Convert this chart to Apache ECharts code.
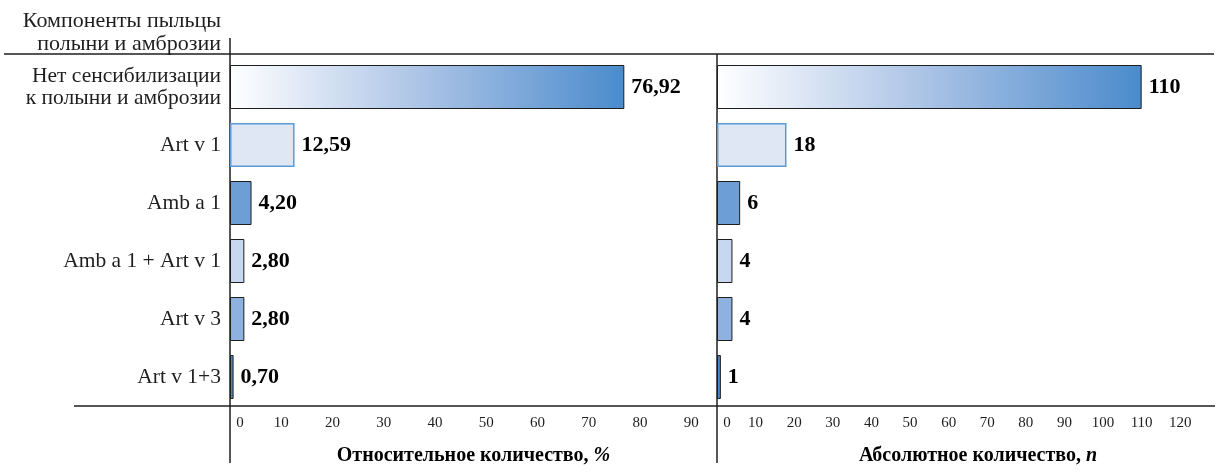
<!DOCTYPE html>
<html>
<head>
<meta charset="utf-8">
<script src="https://cdn.jsdelivr.net/npm/echarts@6/dist/echarts.min.js"></script>
<style>
  html, body { margin: 0; padding: 0; background: #fff; }
  #chart { width: 1218px; height: 472px; }
</style>
</head>
<body>
<div id="chart"></div>
<script>
// Pollen component sensitisation: relative share (%) and absolute count (n)
const categories = [
  'Нет сенсибилизации\nк полыни и амброзии',
  'Art v 1',
  'Amb a 1',
  'Amb a 1 + Art v 1',
  'Art v 3',
  'Art v 1+3'
];
const percentValues = [76.92, 12.59, 4.20, 2.80, 2.80, 0.70];
const countValues = [110, 18, 6, 4, 4, 1];
const percentTicks = [0, 10, 20, 30, 40, 50, 60, 70, 80, 90];
const countTicks = [0, 10, 20, 30, 40, 50, 60, 70, 80, 90, 100, 110, 120];

const SERIF = '"Liberation Serif", "DejaVu Serif", serif';
const INK = '#1e1e1e';

// Table layout: header rule, plot band, footer rule, column rules
const HEADER_Y = 54, TOP = 58, BOTTOM = 406;
const LEFT_X = 230, MID_X = 717, RIGHT_X = 1215;

// Per-row bar fills
const rowStyles = [
  {
    color: new echarts.graphic.LinearGradient(0, 0, 1, 0, [
      { offset: 0, color: '#ffffff' },
      { offset: 0.5, color: '#a9c2e5' },
      { offset: 1, color: '#4a8bcc' }
    ]),
    borderColor: INK, borderWidth: 1
  },
  { color: '#dfe6f4', borderColor: '#5b9bd5', borderWidth: 1.5 },
  { color: '#6d9fd6', borderColor: INK, borderWidth: 1 },
  { color: '#c7d7ef', borderColor: INK, borderWidth: 1 },
  { color: '#8eb1df', borderColor: INK, borderWidth: 1 },
  { color: '#4a87c9', borderColor: INK, borderWidth: 1 }
];

function styled(values) {
  return values.map((v, i) => ({ value: v, itemStyle: rowStyles[i] }));
}

const tickLabel = (ticks) => ({
  fontFamily: SERIF, fontSize: 15, color: INK, margin: 10,
  showMaxLabel: false,
  formatter: v => ticks.indexOf(v) < 0 ? '' : (v === 0 ? '{z|0}' : String(v)),
  rich: { z: { fontFamily: SERIF, fontSize: 15, color: INK, padding: [0, 0, 0, 20] } }
});

const valueLabel = (fmt) => ({
  show: true, position: 'right', distance: 7,
  fontFamily: SERIF, fontSize: 22, fontWeight: 'bold', color: '#000',
  formatter: p => fmt(p.value)
});

const axisName = (text, shift) => ({
  name: text,
  nameLocation: 'middle', nameGap: 40,
  nameTextStyle: {
    fontFamily: SERIF, fontSize: 20, fontWeight: 'bold', color: '#000',
    padding: [0, 0, 0, shift],
    rich: { i: { fontFamily: SERIF, fontSize: 20, fontWeight: 'bold', fontStyle: 'italic', color: '#000' } }
  }
});

const line = (x1, y1, x2, y2) => ({
  type: 'line', silent: true,
  shape: { x1, y1, x2, y2 },
  style: { stroke: INK, lineWidth: 1.5 }
});

const chart = echarts.init(document.getElementById('chart'), null, { renderer: 'canvas' });
chart.setOption({
  animation: false,
  backgroundColor: '#fff',
  title: {
    text: 'Компоненты пыльцы\nполыни и амброзии',
    left: 216, top: 5, textAlign: 'right',
    textStyle: {
      fontFamily: SERIF, fontSize: 22, fontWeight: 'normal', color: INK,
      lineHeight: 23, align: 'right'
    }
  },
  grid: [
    { left: LEFT_X, top: TOP, width: MID_X - LEFT_X, height: BOTTOM - TOP },
    { left: MID_X, top: TOP, width: RIGHT_X - MID_X, height: BOTTOM - TOP }
  ],
  xAxis: [
    Object.assign({
      gridIndex: 0, type: 'value', min: 0, max: 95, interval: 10,
      axisLine: { show: false }, axisTick: { show: false }, splitLine: { show: false },
      axisLabel: tickLabel(percentTicks)
    }, axisName('Относительное количество, {i|%}', 0)),
    Object.assign({
      gridIndex: 1, type: 'value', min: 0, max: 129, interval: 10,
      axisLine: { show: false }, axisTick: { show: false }, splitLine: { show: false },
      axisLabel: tickLabel(countTicks)
    }, axisName('Абсолютное количество, {i|n}', 24))
  ],
  yAxis: [
    {
      gridIndex: 0, type: 'category', data: categories, inverse: true,
      axisLine: { show: false }, axisTick: { show: false },
      axisLabel: {
        fontFamily: SERIF, fontSize: 21.5, color: INK, margin: 9,
        lineHeight: 22, align: 'right'
      }
    },
    {
      gridIndex: 1, type: 'category', data: categories, inverse: true,
      axisLine: { show: false }, axisTick: { show: false }, axisLabel: { show: false }
    }
  ],
  series: [
    {
      type: 'bar', xAxisIndex: 0, yAxisIndex: 0, barWidth: 44,
      data: styled(percentValues),
      label: valueLabel(v => v.toFixed(2).replace('.', ','))
    },
    {
      type: 'bar', xAxisIndex: 1, yAxisIndex: 1, barWidth: 44,
      data: styled(countValues),
      label: valueLabel(v => String(v))
    }
  ],
  graphic: [
    line(4, HEADER_Y, 1214, HEADER_Y),
    line(74, BOTTOM, RIGHT_X, BOTTOM),
    line(LEFT_X, 38, LEFT_X, 463),
    line(MID_X, HEADER_Y, MID_X, 463)
  ]
});
</script>
</body>
</html>
